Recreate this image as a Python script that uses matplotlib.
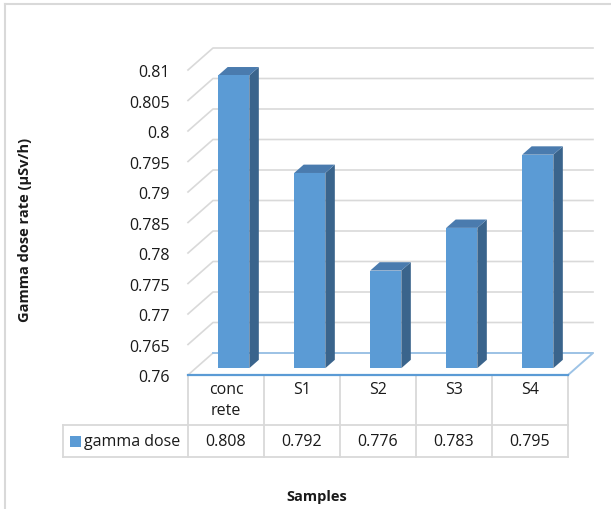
import matplotlib
matplotlib.use("Agg")
import matplotlib.pyplot as plt
from matplotlib.patches import Polygon, Rectangle
from matplotlib.lines import Line2D
from matplotlib.transforms import blended_transform_factory

samples = ["conc\nrete", "S1", "S2", "S3", "S4"]
gamma_dose = [0.808, 0.792, 0.776, 0.783, 0.795]
series_name = "gamma dose"
y_ticks = [0.76, 0.765, 0.77, 0.775, 0.78, 0.785, 0.79, 0.795, 0.8, 0.805, 0.81]

FRONT = "#5B9BD5"
SIDE = "#3A648C"
TOP = "#4A7BAE"
GRID = "#D9D9D9"
FLOOR_LIGHT = "#9DC3E6"

plt.rcParams["font.family"] = ["Open Sans", "DejaVu Sans"]
plt.rcParams["text.color"] = "#1A1A1A"

W, H = 611, 510
fig = plt.figure(figsize=(W / 100, H / 100), dpi=100)


def fx(px):
    return px / W


def fy(py):
    return 1 - py / H


# front plane of the 3-D box
ax = fig.add_axes([fx(188), fy(376), fx(568) - fx(188), fy(71) - fy(376)])
ax.set_xlim(-0.5, len(samples) - 0.5)
ax.set_ylim(y_ticks[0], y_ticks[-1])
ax.patch.set_visible(False)
for s in ax.spines.values():
    s.set_visible(False)
ax.set_xticks([])
ax.set_yticks(y_ticks, labels=[f"{t:g}" for t in y_ticks])
ax.tick_params(axis="y", length=0, pad=13, labelsize=11.5, labelcolor="#1A1A1A")

# oblique depth vector in data units (25 px right, 22 px up)
DX = 25 / (380 / len(samples))
DY = 22 / (305 / (y_ticks[-1] - y_ticks[0]))
x0, x1 = -0.5, len(samples) - 0.5
y0 = y_ticks[0]

# walls: side-wall diagonals and back-wall gridlines
for t in y_ticks:
    ax.add_line(Line2D([x0, x0 + DX, x1 + DX], [t, t + DY, t + DY],
                       color=GRID, lw=1.2, clip_on=False, zorder=1))

# floor outline
ax.add_line(Line2D([x0 + DX, x1 + DX, x1], [y0 + DY, y0 + DY, y0],
                   color=FLOOR_LIGHT, lw=1.4, clip_on=False, zorder=2))
ax.add_line(Line2D([x0, x1], [y0, y0], color=FRONT, lw=1.6,
                   clip_on=False, zorder=2))

# 3-D columns
bw = 0.41
d0, d1 = 0.31, 0.69
for i, v in enumerate(gamma_dose):
    l, r = i - bw / 2, i + bw / 2
    side = [(r + d0 * DX, y0 + d0 * DY), (r + d1 * DX, y0 + d1 * DY),
            (r + d1 * DX, v + d1 * DY), (r + d0 * DX, v + d0 * DY)]
    top = [(l + d0 * DX, v + d0 * DY), (r + d0 * DX, v + d0 * DY),
           (r + d1 * DX, v + d1 * DY), (l + d1 * DX, v + d1 * DY)]
    ax.add_patch(Polygon(side, closed=True, fc=SIDE, ec="none",
                         clip_on=False, zorder=3))
    ax.add_patch(Polygon(top, closed=True, fc=TOP, ec="none",
                         clip_on=False, zorder=3))
    ax.add_patch(Rectangle((l + d0 * DX, y0 + d0 * DY), bw, v - y0,
                           fc=FRONT, ec="none", clip_on=False, zorder=4))

# data table under the plot
tb = blended_transform_factory(ax.transData, ax.transAxes)
row_mid = -(426 - 376) / 305
row_bot = -(458 - 376) / 305
leg_left = -0.5 - 125 / 76
tbl = dict(color=GRID, lw=1.3, clip_on=False, transform=tb, zorder=1)
for k in range(len(samples) + 1):
    ax.add_line(Line2D([k - 0.5, k - 0.5], [0, row_bot], **tbl))
for yy in (row_mid, row_bot):
    ax.add_line(Line2D([leg_left, x1], [yy, yy], **tbl))
ax.add_line(Line2D([leg_left, leg_left], [row_mid, row_bot], **tbl))

for i, (name, v) in enumerate(zip(samples, gamma_dose)):
    ax.text(i, -(382 - 376) / 305, name, transform=tb, ha="center", va="top",
            fontsize=11.5, linespacing=1.4)
    ax.text(i, (row_mid + row_bot) / 2, f"{v:g}", transform=tb, ha="center",
            va="center", fontsize=11.5)

ax.add_patch(Rectangle((leg_left + 7 / 76, (row_mid + row_bot) / 2 - 5.5 / 305),
                       11 / 76, 11 / 305, transform=tb, fc=FRONT, ec="none",
                       clip_on=False))
ax.text(leg_left + 21 / 76, (row_mid + row_bot) / 2, series_name, transform=tb,
        ha="left", va="center", fontsize=11.5)

# axis titles
fig.text(fx(25), fy(230), "Gamma dose rate (µSv/h)", rotation=90,
         ha="center", va="center", fontsize=10.5, fontweight="bold")
fig.text(fx(317), fy(497), "Samples", ha="center", va="center",
         fontsize=10.5, fontweight="bold")

# chart-area border
fig.add_artist(Line2D([fx(5), 1], [fy(5), fy(5)], color=GRID, lw=1.5))
fig.add_artist(Line2D([fx(5), fx(5)], [fy(5), 0], color=GRID, lw=1.5))

fig.savefig("out.png", dpi=100)
